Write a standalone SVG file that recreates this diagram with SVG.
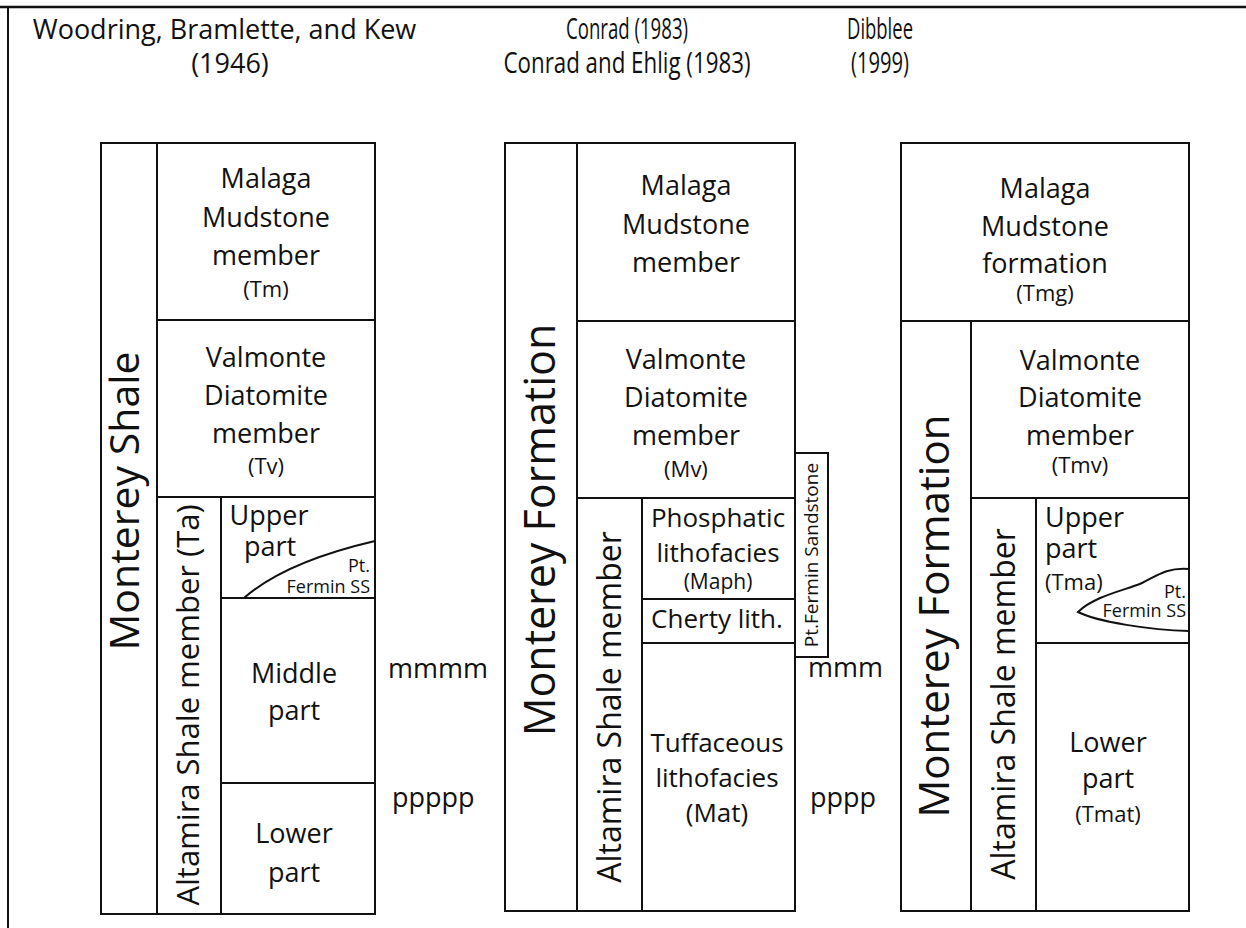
<svg xmlns="http://www.w3.org/2000/svg" width="1246" height="928" viewBox="0 0 1246 928">
<style>
text{font-family:"Open Sans","Liberation Sans",sans-serif;fill:#111;}
.box{fill:#fff;stroke:#111;stroke-width:2;}
.t{font-size:27px;text-anchor:middle;}
.s{font-size:22px;text-anchor:middle;}
.m{font-size:26px;text-anchor:middle;}
.h{font-size:27px;text-anchor:middle;}
.hc{font-size:29px;text-anchor:middle;}
.v{font-size:41px;text-anchor:middle;}
.a{font-size:31px;text-anchor:middle;}
.ss{font-size:18px;text-anchor:end;}
.l{font-size:27px;text-anchor:start;}
.curve{fill:none;stroke:#111;stroke-width:2;}
</style>
<rect x="0" y="0" width="1246" height="928" fill="#fff"/>
<g id="frame">
<line x1="0" y1="7" x2="1246" y2="7" stroke="#111" stroke-width="2.5"/>
<line x1="8" y1="6" x2="8" y2="928" stroke="#111" stroke-width="2"/>
</g>
<g id="headers">
<text class="h" x="224.5" y="39">Woodring, Bramlette, and Kew</text>
<text class="h" x="230" y="73">(1946)</text>
<text class="hc" x="627" y="39" textLength="122" lengthAdjust="spacingAndGlyphs">Conrad (1983)</text>
<text class="hc" x="627" y="73" textLength="247" lengthAdjust="spacingAndGlyphs">Conrad and Ehlig (1983)</text>
<text class="hc" x="880" y="39" textLength="66" lengthAdjust="spacingAndGlyphs">Dibblee</text>
<text class="hc" x="880" y="73" textLength="58" lengthAdjust="spacingAndGlyphs">(1999)</text>
</g>
<!-- Left column -->
<g id="l-monterey-shale">
<rect class="box" x="101" y="143" width="56" height="771"/>
<text class="v" transform="translate(139,501) rotate(-90)">Monterey Shale</text>
</g>
<g id="l-malaga">
<rect class="box" x="157" y="143" width="218" height="177"/>
<text class="t" x="266" y="188">Malaga</text>
<text class="t" x="266" y="227">Mudstone</text>
<text class="t" x="266" y="265">member</text>
<text class="s" x="266" y="297">(Tm)</text>
</g>
<g id="l-valmonte">
<rect class="box" x="157" y="320" width="218" height="177"/>
<text class="t" x="266" y="367">Valmonte</text>
<text class="t" x="266" y="405">Diatomite</text>
<text class="t" x="266" y="443">member</text>
<text class="s" x="266" y="474">(Tv)</text>
</g>
<g id="l-altamira">
<rect class="box" x="157" y="497" width="64" height="417"/>
<text class="a" transform="translate(199,705) rotate(-90)">Altamira Shale member (Ta)</text>
</g>
<g id="l-upper">
<rect class="box" x="221" y="497" width="154" height="101"/>
<text class="t" x="269" y="525">Upper</text>
<text class="t" x="270" y="556">part</text>
<path class="curve" d="M244,598 Q285,562 375,541"/>
<text class="ss" x="370" y="572">Pt.</text>
<text class="ss" x="370" y="593">Fermin SS</text>
</g>
<g id="l-middle">
<rect class="box" x="221" y="598" width="154" height="185"/>
<text class="t" x="294" y="683">Middle</text>
<text class="t" x="294" y="720">part</text>
</g>
<g id="l-lower">
<rect class="box" x="221" y="783" width="154" height="131"/>
<text class="t" x="294" y="843">Lower</text>
<text class="t" x="294" y="882">part</text>
</g>
<g id="l-labels">
<text class="l" x="388" y="678">mmmm</text>
<text class="l" x="392" y="807">ppppp</text>
</g>
<!-- Middle column -->
<g id="m-monterey-formation">
<rect class="box" x="505" y="143" width="72" height="768"/>
<text class="v" style="font-size:43px" transform="translate(555,530) rotate(-90)">Monterey Formation</text>
</g>
<g id="m-malaga">
<rect class="box" x="577" y="143" width="218" height="178"/>
<text class="t" x="686" y="195">Malaga</text>
<text class="t" x="686" y="234">Mudstone</text>
<text class="t" x="686" y="272">member</text>
</g>
<g id="m-valmonte">
<rect class="box" x="577" y="321" width="218" height="177"/>
<text class="t" x="686" y="369">Valmonte</text>
<text class="t" x="686" y="407">Diatomite</text>
<text class="t" x="686" y="445">member</text>
<text class="s" x="686" y="477">(Mv)</text>
</g>
<g id="m-altamira">
<rect class="box" x="577" y="498" width="65" height="413"/>
<text class="a" style="font-size:32px" transform="translate(621,707) rotate(-90)">Altamira Shale member</text>
</g>
<g id="m-phosphatic">
<rect class="box" x="642" y="498" width="153" height="101"/>
<text class="m" x="718" y="527">Phosphatic</text>
<text class="m" x="718" y="562">lithofacies</text>
<text class="s" x="718" y="589" style="font-size:21px">(Maph)</text>
</g>
<g id="m-cherty">
<rect class="box" x="642" y="599" width="153" height="44"/>
<text class="m" x="717" y="628">Cherty lith.</text>
</g>
<g id="m-tuffaceous">
<rect class="box" x="642" y="643" width="153" height="268"/>
<text class="m" x="717" y="752">Tuffaceous</text>
<text class="m" x="717" y="787">lithofacies</text>
<text class="m" x="717" y="822">(Mat)</text>
</g>
<g id="m-ptfermin">
<rect class="box" x="795" y="453" width="33" height="204"/>
<text transform="translate(818,555) rotate(-90)" style="font-size:19px;text-anchor:middle">Pt.Fermin Sandstone</text>
</g>
<g id="m-labels">
<text class="l" x="808" y="677">mmm</text>
<text class="l" x="810" y="807">pppp</text>
</g>
<!-- Right column -->
<g id="r-malaga">
<rect class="box" x="901" y="143" width="288" height="178"/>
<text class="t" x="1045" y="198">Malaga</text>
<text class="t" x="1045" y="236">Mudstone</text>
<text class="t" x="1045" y="273">formation</text>
<text class="s" x="1045" y="301">(Tmg)</text>
</g>
<g id="r-monterey-formation">
<rect class="box" x="901" y="321" width="70" height="590"/>
<text class="v" style="font-size:42px" transform="translate(949,616) rotate(-90)">Monterey Formation</text>
</g>
<g id="r-valmonte">
<rect class="box" x="971" y="321" width="218" height="177"/>
<text class="t" x="1080" y="370">Valmonte</text>
<text class="t" x="1080" y="407">Diatomite</text>
<text class="t" x="1080" y="445">member</text>
<text class="s" x="1080" y="473">(Tmv)</text>
</g>
<g id="r-altamira">
<rect class="box" x="971" y="498" width="65" height="413"/>
<text class="a" style="font-size:32px" transform="translate(1015,704) rotate(-90)">Altamira Shale member</text>
</g>
<g id="r-upper">
<rect class="box" x="1036" y="498" width="153" height="145"/>
<text class="l" x="1045" y="527">Upper</text>
<text class="l" x="1045" y="558">part</text>
<text class="l" x="1045" y="590" style="font-size:22px">(Tma)</text>
<path class="curve" d="M1189,569 C1166,567 1155,577 1142,583 C1126,590 1094,596 1078,612 C1098,622 1150,630 1189,631"/>
<text class="ss" x="1186" y="598">Pt.</text>
<text class="ss" x="1186" y="617">Fermin SS</text>
</g>
<g id="r-lower">
<rect class="box" x="1036" y="643" width="153" height="268"/>
<text class="t" x="1108" y="752">Lower</text>
<text class="t" x="1108" y="788">part</text>
<text class="s" x="1108" y="822">(Tmat)</text>
</g>
<g id="connectors"></g>
</svg>
